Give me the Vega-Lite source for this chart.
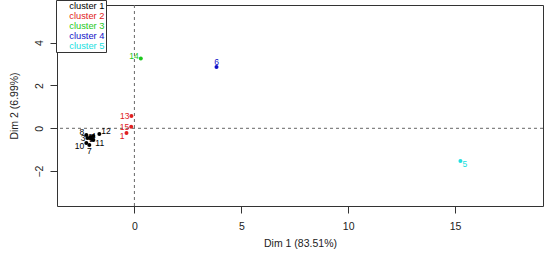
{
  "$schema": "https://vega.github.io/schema/vega-lite/v6.json",
  "autosize": {"type": "none"},
  "width": 486,
  "height": 201,
  "padding": {"left": 57, "top": 5, "right": 7, "bottom": 59},
  "background": "white",
  "config": {
    "view": {"stroke": "#333", "strokeWidth": 1},
    "font": "Liberation Sans",
    "axis": {"grid": false, "domain": false, "tickColor": "#333", "labelColor": "#222", "titleColor": "#222", "labelFont": "Liberation Sans", "titleFont": "Liberation Sans", "labelFontSize": 10.5, "titleFontSize": 10.5, "titleFontWeight": "normal", "tickSize": 7}
  },
  "data": {
    "values": [
      {"id": 1, "x": -0.37, "y": -0.22, "cluster": "cluster 2"},
      {"id": 2, "x": -2.06, "y": -0.41, "cluster": "cluster 1"},
      {"id": 3, "x": -2.20, "y": -0.45, "cluster": "cluster 1"},
      {"id": 4, "x": -1.92, "y": -0.36, "cluster": "cluster 1"},
      {"id": 5, "x": 15.25, "y": -1.53, "cluster": "cluster 5"},
      {"id": 6, "x": 3.84, "y": 2.86, "cluster": "cluster 4"},
      {"id": 7, "x": -2.11, "y": -0.78, "cluster": "cluster 1"},
      {"id": 8, "x": -2.25, "y": -0.31, "cluster": "cluster 1"},
      {"id": 9, "x": -2.01, "y": -0.50, "cluster": "cluster 1"},
      {"id": 10, "x": -2.25, "y": -0.69, "cluster": "cluster 1"},
      {"id": 11, "x": -1.92, "y": -0.55, "cluster": "cluster 1"},
      {"id": 12, "x": -1.64, "y": -0.27, "cluster": "cluster 1"},
      {"id": 13, "x": -0.14, "y": 0.57, "cluster": "cluster 2"},
      {"id": 14, "x": 0.30, "y": 3.26, "cluster": "cluster 3"},
      {"id": 15, "x": -0.15, "y": 0.07, "cluster": "cluster 2"}
    ]
  },
  "encoding": {
    "x": {"field": "x", "type": "quantitative", "title": "Dim 1 (83.51%)",
      "scale": {"domain": [-3.62, 19.11], "nice": false, "zero": false},
      "axis": {"values": [0, 5, 10, 15], "labelPadding": 8, "titlePadding": 7}},
    "y": {"field": "y", "type": "quantitative", "title": "Dim 2 (6.99%)",
      "scale": {"domain": [-3.63, 5.76], "nice": false, "zero": false},
      "axis": {"values": [-2, 0, 2, 4], "labelAngle": -90, "labelAlign": "center", "labelBaseline": "bottom", "labelPadding": 6, "titlePadding": 15}},
    "color": {"field": "cluster", "type": "nominal",
      "scale": {"domain": ["cluster 1", "cluster 2", "cluster 3", "cluster 4", "cluster 5"], "range": ["#000000", "#E02020", "#1DC81D", "#1010C8", "#20E0E0"]},
      "legend": null}
  },
  "layer": [
    {"mark": {"type": "rule", "strokeDash": [3, 3], "color": "#666", "strokeWidth": 1}, "data": {"values": [{"v": 0}]}, "encoding": {"x": {"field": "v", "type": "quantitative"}, "y": null, "color": null}},
    {"mark": {"type": "rule", "strokeDash": [3, 3], "color": "#666", "strokeWidth": 1}, "data": {"values": [{"v": 0}]}, "encoding": {"y": {"field": "v", "type": "quantitative"}, "x": null, "color": null}},
    {"mark": {"type": "point", "shape": "circle", "filled": true, "size": 16, "opacity": 1},
      "encoding": {"color": {"field": "cluster", "type": "nominal",
        "legend": {"orient": "none", "legendX": -1, "legendY": -5, "title": null, "strokeColor": "#333", "fillColor": "white", "padding": 1, "symbolSize": 0, "symbolOpacity": 0, "symbolStrokeWidth": 0, "labelFontSize": 9.3, "labelFont": "Liberation Sans", "labelOffset": 3, "rowPadding": 0,
          "encode": {"labels": {"update": {"fill": {"scale": "color", "field": "value"}}}}}}}},
    {"transform": [{"filter": "indexof([14, 8], datum.id) >= 0"}], "mark": {"type": "text", "align": "right", "baseline": "middle", "dx": -2, "dy": -3, "fontSize": 8.5}, "encoding": {"text": {"field": "id", "type": "nominal"}}},
    {"transform": [{"filter": "indexof([13, 3, 15], datum.id) >= 0"}], "mark": {"type": "text", "align": "right", "baseline": "middle", "dx": -2, "dy": 0, "fontSize": 8.5}, "encoding": {"text": {"field": "id", "type": "nominal"}}},
    {"transform": [{"filter": "indexof([1, 10], datum.id) >= 0"}], "mark": {"type": "text", "align": "right", "baseline": "middle", "dx": -2, "dy": 3, "fontSize": 8.5}, "encoding": {"text": {"field": "id", "type": "nominal"}}},
    {"transform": [{"filter": "indexof([6], datum.id) >= 0"}], "mark": {"type": "text", "align": "center", "baseline": "middle", "dx": 0, "dy": -5, "fontSize": 8.5}, "encoding": {"text": {"field": "id", "type": "nominal"}}},
    {"transform": [{"filter": "indexof([7], datum.id) >= 0"}], "mark": {"type": "text", "align": "center", "baseline": "middle", "dx": 0, "dy": 6, "fontSize": 8.5}, "encoding": {"text": {"field": "id", "type": "nominal"}}},
    {"transform": [{"filter": "indexof([11, 5], datum.id) >= 0"}], "mark": {"type": "text", "align": "left", "baseline": "middle", "dx": 2, "dy": 3, "fontSize": 8.5}, "encoding": {"text": {"field": "id", "type": "nominal"}}},
    {"transform": [{"filter": "indexof([12], datum.id) >= 0"}], "mark": {"type": "text", "align": "left", "baseline": "middle", "dx": 2, "dy": -3, "fontSize": 8.5}, "encoding": {"text": {"field": "id", "type": "nominal"}}},
    {"transform": [{"filter": "indexof([2, 4, 9], datum.id) >= 0"}], "mark": {"type": "text", "align": "center", "baseline": "middle", "dx": 0, "dy": 0, "fontSize": 8.5}, "encoding": {"text": {"field": "id", "type": "nominal"}}}
  ]
}
